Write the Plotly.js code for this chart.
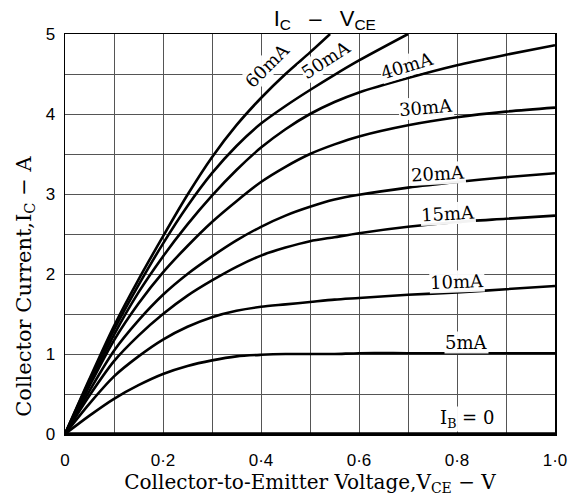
<!DOCTYPE html>
<html>
<head>
<meta charset="utf-8">
<script src="https://cdn.plot.ly/plotly-3.0.1.min.js"></script>
<style>html,body{margin:0;padding:0;background:#fff;}#chart{width:581px;height:497px;}</style>
</head>
<body>
<div id="chart"></div>
<script>
// Collector-to-emitter voltage (V)
const vce = [0, 0.05, 0.1, 0.15, 0.2, 0.25, 0.3, 0.35, 0.4, 0.45, 0.5, 0.55, 0.6, 0.7, 0.8, 0.9, 1.0];
const vce50 = [0, 0.05, 0.1, 0.15, 0.2, 0.25, 0.3, 0.35, 0.4, 0.45, 0.5, 0.55, 0.6, 0.7];
const vce60 = [0, 0.05, 0.1, 0.15, 0.2, 0.25, 0.3, 0.35, 0.4, 0.45, 0.5, 0.541];
// Collector current (A) for each base current
const ic5  = [0, 0.23, 0.44, 0.61, 0.75, 0.85, 0.92, 0.97, 0.99, 1.00, 1.00, 1.00, 1.01, 1.01, 1.01, 1.01, 1.01];
const ic10 = [0, 0.38, 0.72, 0.97, 1.18, 1.34, 1.46, 1.54, 1.59, 1.62, 1.65, 1.68, 1.70, 1.74, 1.77, 1.81, 1.85];
const ic15 = [0, 0.48, 0.91, 1.23, 1.50, 1.73, 1.92, 2.09, 2.23, 2.33, 2.41, 2.46, 2.51, 2.59, 2.65, 2.69, 2.73];
const ic20 = [0, 0.54, 1.04, 1.42, 1.74, 2.00, 2.22, 2.42, 2.59, 2.73, 2.84, 2.93, 2.99, 3.08, 3.15, 3.21, 3.26];
const ic30 = [0, 0.60, 1.17, 1.63, 2.02, 2.35, 2.65, 2.91, 3.15, 3.34, 3.50, 3.62, 3.72, 3.86, 3.96, 4.03, 4.08];
const ic40 = [0, 0.63, 1.24, 1.77, 2.22, 2.62, 2.98, 3.30, 3.58, 3.81, 4.00, 4.15, 4.27, 4.45, 4.61, 4.74, 4.86];
const ic50 = [0, 0.67, 1.30, 1.86, 2.38, 2.85, 3.26, 3.60, 3.88, 4.10, 4.30, 4.49, 4.67, 5.00];
const ic60 = [0, 0.69, 1.35, 1.93, 2.47, 2.99, 3.46, 3.86, 4.20, 4.50, 4.77, 5.00];
const ib0v = [0, 1.0];
const ib0i = [0, 0];
// Curve labels
const labelText = ["60mA", "50mA", "40mA", "30mA", "20mA", "15mA", "10mA", "5mA", "I<sub>B</sub> = 0"];
const labelX = [0.412, 0.533, 0.698, 0.737, 0.761, 0.782, 0.80, 0.82, 0.82];
const labelY = [4.61, 4.68, 4.61, 4.08, 3.26, 2.76, 1.91, 1.14, 0.19];
const labelAngle = [-45, -33, -17, -5, -3, -3, -2, 0, 0];
// Ticks
const xTickVals = [0, 0.1, 0.2, 0.3, 0.4, 0.5, 0.6, 0.7, 0.8, 0.9, 1.0];
const xTickText = ["0", "", "0·2", "", "0·4", "", "0·6", "", "0·8", "", "1·0"];
const yTickVals = [0, 0.5, 1, 1.5, 2, 2.5, 3, 3.5, 4, 4.5, 5];
const yTickText = ["0", "", "1", "", "2", "", "3", "", "4", "", "5"];

const series = [
  [vce, ic5], [vce, ic10], [vce, ic15], [vce, ic20], [vce, ic30], [vce, ic40], [vce50, ic50], [vce60, ic60]
];
const traces = series.map(s => ({
  x: s[0], y: s[1], type: 'scatter', mode: 'lines',
  line: {color: '#000', width: 2.6, shape: 'spline', smoothing: 0.8},
  hoverinfo: 'skip', cliponaxis: true
}));
traces.push({x: ib0v, y: ib0i, type: 'scatter', mode: 'lines', line: {color: '#000', width: 3.5}, hoverinfo: 'skip', cliponaxis: false});

const serif = 'DejaVu Serif, Liberation Serif, serif';
const annotations = labelText.map((t, i) => ({
  x: labelX[i], y: labelY[i], xref: 'x', yref: 'y', text: t, showarrow: false,
  textangle: labelAngle[i], font: {family: serif, size: 18, color: '#000'},
  bgcolor: 'rgba(255,255,255,0.95)', borderpad: 0
}));
// y-axis title (placed as annotation so it sits where the reference has it)
annotations.push({
  xref: 'paper', yref: 'paper', x: -0.082, y: 0.37, xanchor: 'center', yanchor: 'middle',
  text: 'Collector Current,I<sub>C</sub> − A', textangle: -90, showarrow: false,
  font: {family: serif, size: 21, color: '#000'}
});

const axisCommon = {
  showline: true, linecolor: '#000', linewidth: 1.5, mirror: true,
  showgrid: true, gridcolor: '#555', gridwidth: 1, zeroline: false,
  ticks: '', tickmode: 'array', fixedrange: true,
  tickfont: {family: 'Liberation Sans, Arial, sans-serif', size: 17, color: '#000'}
};

const layout = {
  width: 581, height: 497,
  margin: {l: 65, r: 26, t: 34, b: 63},
  paper_bgcolor: '#fff', plot_bgcolor: '#fff',
  showlegend: false,
  title: {text: 'I<sub>C</sub>   –   V<sub>CE</sub>', x: 0.559, xanchor: 'center', y: 0.979, yanchor: 'top',
          font: {family: 'Liberation Sans, Arial, sans-serif', size: 22, color: '#000'}},
  xaxis: Object.assign({}, axisCommon, {
    range: [0, 1.0], tickvals: xTickVals, ticktext: xTickText, ticklabelstandoff: 10,
    title: {text: 'Collector-to-Emitter Voltage,V<sub>CE</sub> − V', standoff: 2,
            font: {family: serif, size: 20, color: '#000'}}
  }),
  yaxis: Object.assign({}, axisCommon, {
    range: [0, 5], tickvals: yTickVals, ticktext: yTickText, ticklabelstandoff: 5
  }),
  annotations: annotations
};

Plotly.newPlot('chart', traces, layout, {staticPlot: true, displayModeBar: false});
</script>
</body>
</html>
